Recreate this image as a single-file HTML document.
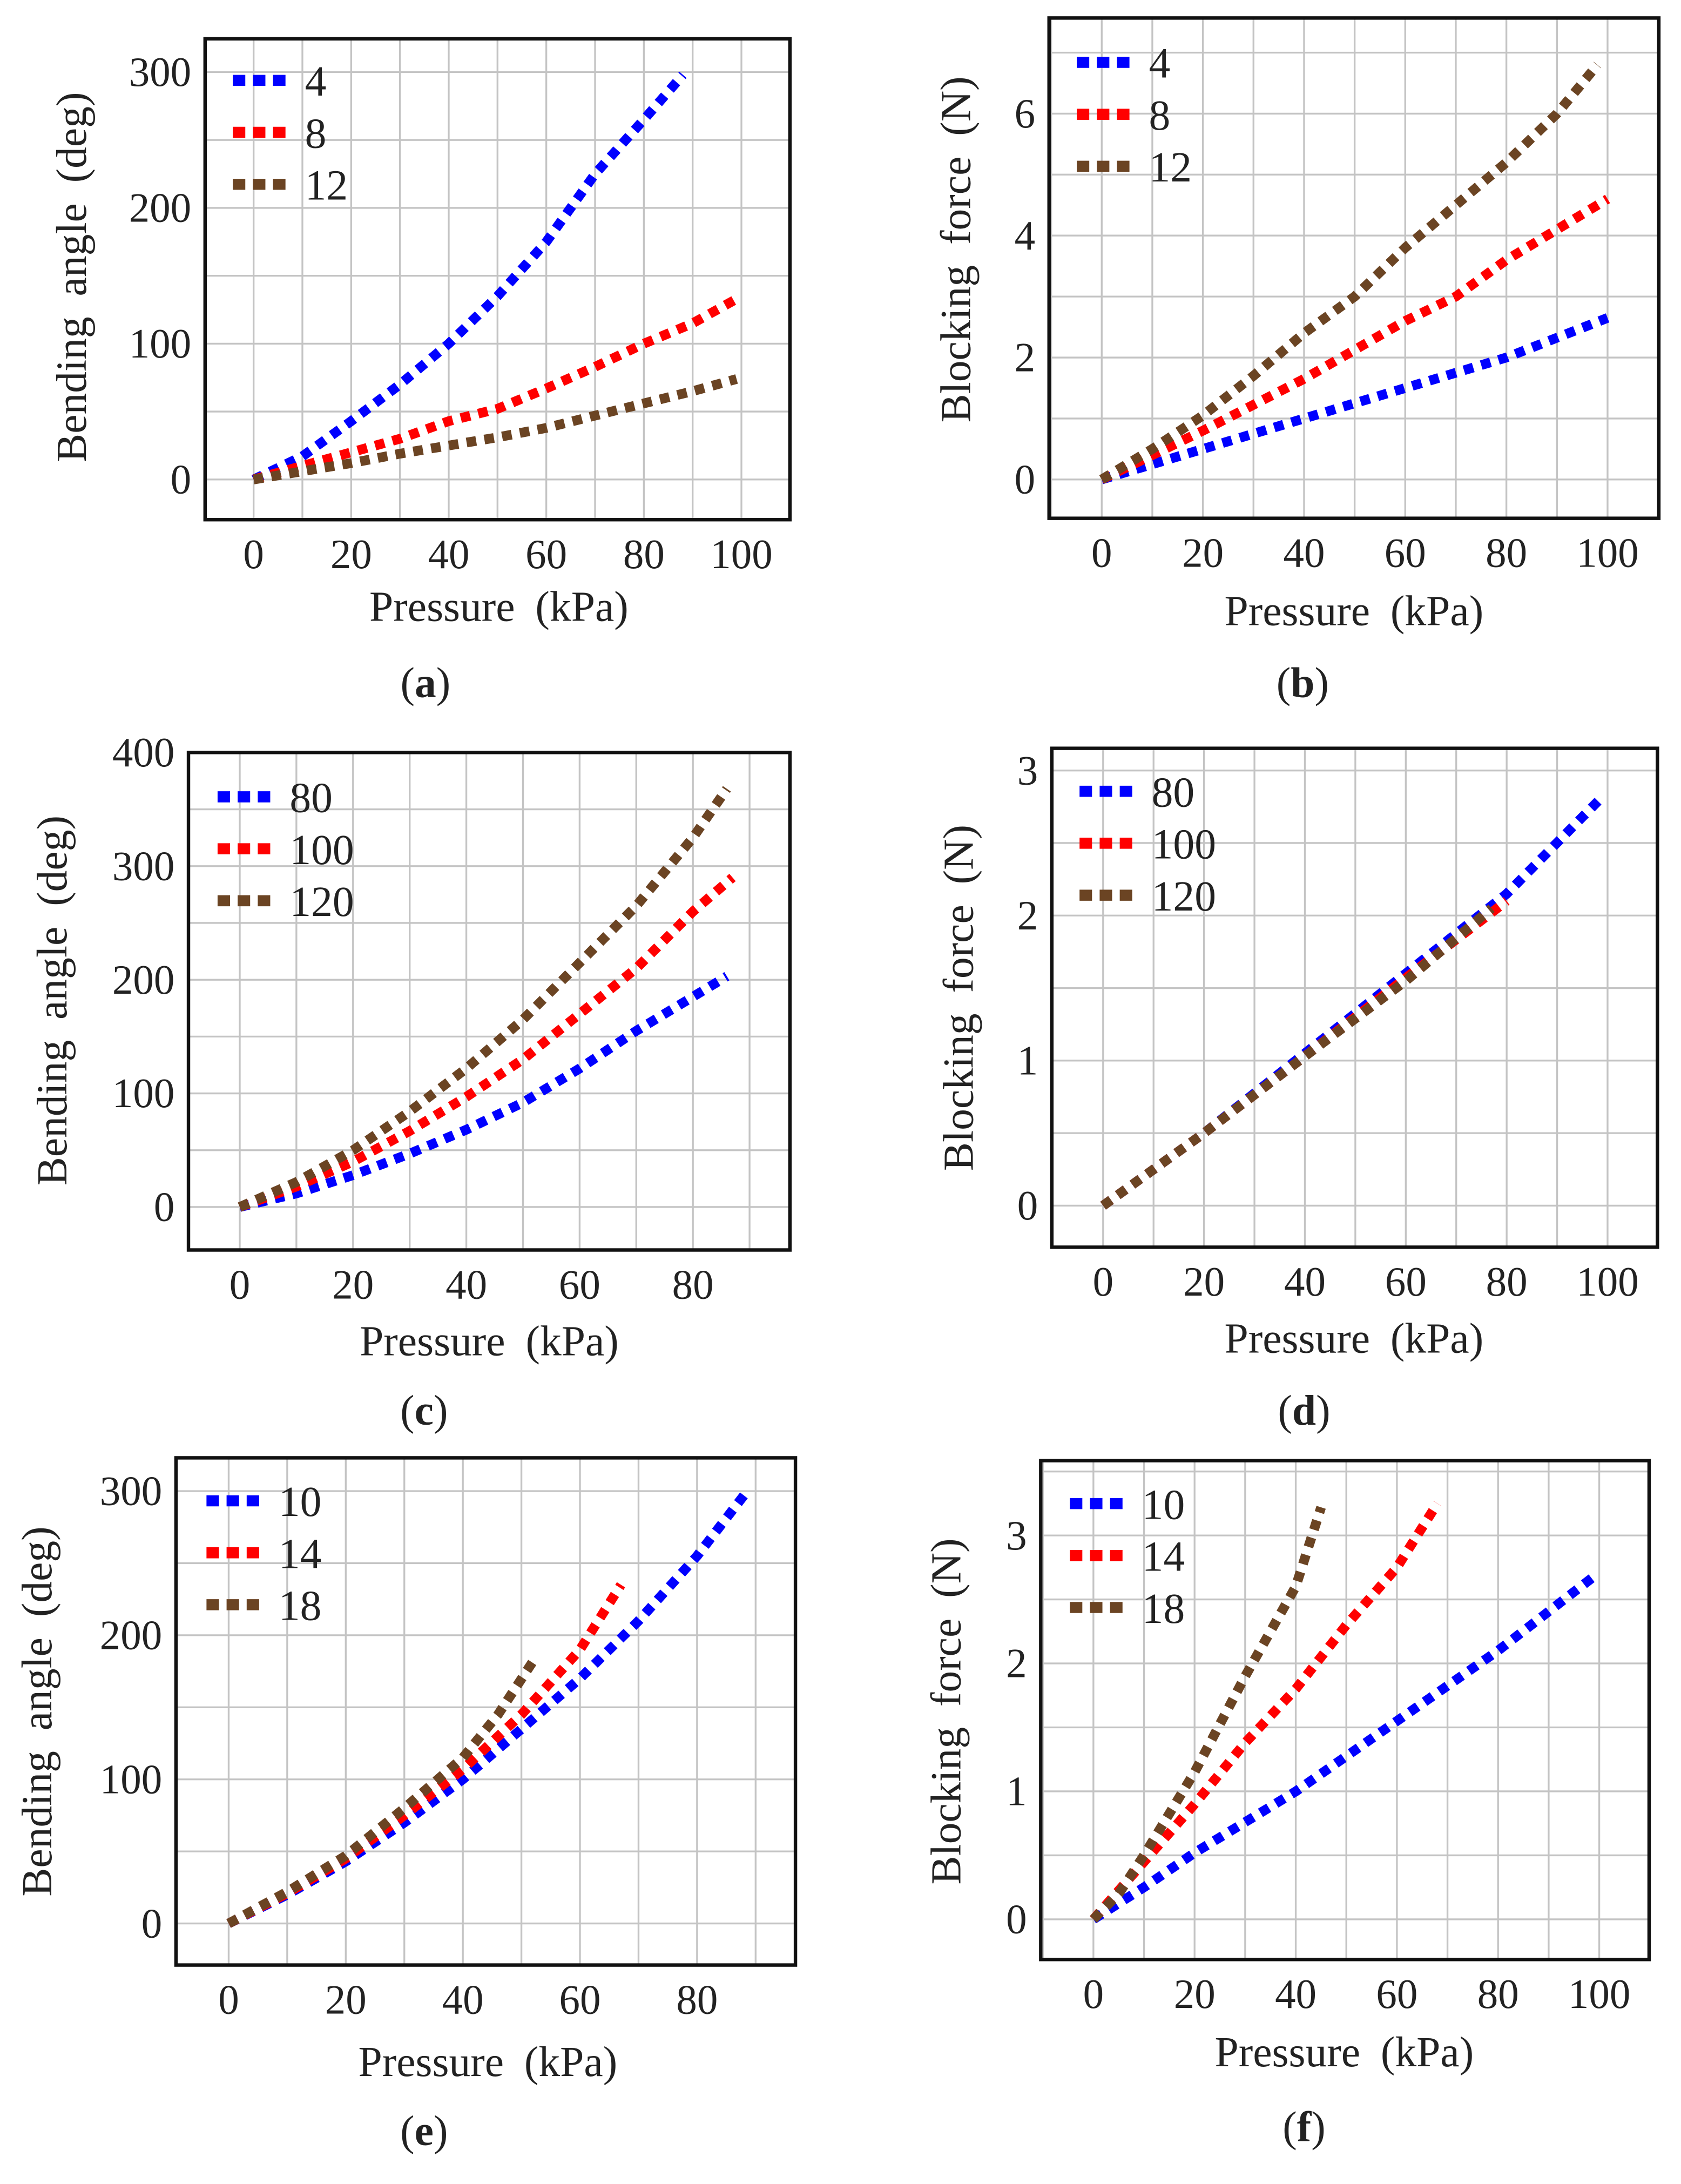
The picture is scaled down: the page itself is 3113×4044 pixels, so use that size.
<!DOCTYPE html>
<html><head><meta charset="utf-8"><style>
html,body{margin:0;padding:0;background:#fff;}
svg{display:block;}
</style></head><body>
<svg id="fig" width="3113" height="4044" viewBox="0 0 1213 1576" preserveAspectRatio="none" xmlns="http://www.w3.org/2000/svg"></svg>
<script>
// ---- data ----
const aX4=[0,10,20,30,40,50,60,70,80,88], aY4=[0,17,43,70,100,135,175,225,265,298];
const aX8=[0,10,20,30,40,50,60,70,80,90,99], aY8=[0,10,20,30,43,52,67,83,100,115,133];
const aX12=[0,10,20,30,40,50,60,70,80,90,99], aY12=[0,6,12,19,25,31,38,47,56,65,74];
const bX4=[0,10,20,40,60,80,100], bY4=[0,0.25,0.5,1.0,1.5,2.0,2.65];
const bX8=[0,10,20,40,60,70,80,100], bY8=[0,0.4,0.8,1.65,2.6,3.0,3.6,4.6];
const bX12=[0,10,20,30,40,50,60,70,80,90,98], bY12=[0,0.5,1.05,1.7,2.4,3.0,3.8,4.5,5.2,6.0,6.8];
const cX80=[0,10,20,30,40,50,60,70,80,86], cY80=[0,12,28,47,68,92,122,155,185,203];
const cX100=[0,10,20,30,40,50,60,70,80,87], cY100=[0,18,40,67,97,130,170,210,260,290];
const cX120=[0,10,20,30,40,50,60,70,80,86], cY120=[0,22,50,84,122,165,215,265,325,368];
const dX80=[0,20,40,60,80,99], dY80=[0,0.5,1.05,1.6,2.15,2.82];
const dX100=[0,20,40,60,80], dY100=[0,0.5,1.03,1.57,2.1];
const dX120=[0,20,40,60,77], dY120=[0,0.5,1.03,1.55,2.05];
const eX10=[0,10,20,30,40,50,60,70,80,88], eY10=[0,20,43,70,100,135,170,210,255,297];
const eX14=[0,10,20,30,40,50,60,67], eY14=[0,21,45,75,107,145,190,235];
const eX18=[0,10,20,30,40,46,52], eY18=[0,22,47,80,115,145,182];
const fX10=[0,10,20,40,60,80,99], fY10=[0,0.25,0.52,1.0,1.55,2.1,2.68];
const fX14=[0,10,20,30,40,50,60,68], fY14=[0,0.45,0.9,1.38,1.8,2.3,2.75,3.25];
const fX18=[0,5,10,20,30,40,45], fY18=[0,0.2,0.5,1.15,1.9,2.6,3.22];
const xTicks100=[0,20,40,60,80,100], xTicks80=[0,20,40,60,80];
const aYTicks=[0,100,200,300], bYTicks=[0,2,4,6], cYTicks=[0,100,200,300,400], dYTicks=[0,1,2,3];
const colors=["#0000ff","#ff0000","#6b4423"];
const FF='"Liberation Serif", "DejaVu Serif", serif';

const NS="http://www.w3.org/2000/svg", svg=document.getElementById('fig');
function mk(tag,attrs,parent){const e=document.createElementNS(NS,tag);for(const k in attrs)e.setAttribute(k,attrs[k]);if(tag==='text'){e.setAttribute('font-family',FF);e.setAttribute('fill','#222');}(parent||svg).appendChild(e);return e;}

function panel(p){
  const g=mk('g',{});
  
  
  const sx=v=>p.px0+(v-p.x0)*(p.px1-p.px0)/(p.x1-p.x0);
  const sy=v=>p.py0+(v-p.y0)*(p.py1-p.py0)/(p.y1-p.y0);
  const L=p.frame[0],R=p.frame[1],T=p.frame[2],B=p.frame[3];
  for(let v=Math.ceil(p.xmin/p.xg)*p.xg; v<=p.xmax; v+=p.xg){const x=sx(v); if(x<=L+1||x>=R-1)continue;
    const l=mk('line',{x1:x,x2:x,y1:T,y2:B,stroke:'#c4c4c4','stroke-width':1.3},g);
    }
  for(let v=Math.ceil(p.ymin/p.yg)*p.yg; v<=p.ymax+1e-9; v+=p.yg){const y=sy(v); if(y<=T+1||y>=B-1)continue;
    const l=mk('line',{x1:L,x2:R,y1:y,y2:y,stroke:'#c4c4c4','stroke-width':1.3},g);
    }
  p.series.forEach((s,i)=>{
    const pts=s.x.map((xv,j)=>sx(xv).toFixed(1)+','+sy(s.y[j]).toFixed(1)).join(' ');
    const pl=mk('polyline',{points:pts,fill:'none',stroke:colors[i],'stroke-width':7,'stroke-dasharray':'7 6'},g);
    
    const ly=p.leg[1]+i*37.5;
    const ll=mk('line',{x1:p.leg[0],x2:p.leg[0]+42,y1:ly,y2:ly,stroke:colors[i],'stroke-width':8,'stroke-dasharray':'9 5.5'},g);
    
    const lt=mk('text',{x:p.leg[0]+52,y:ly+11,'font-size':31},g);lt.textContent=s.name;
    
  });
  const fr=mk('rect',{x:L,y:T,width:R-L,height:B-T,fill:'none',stroke:'#111','stroke-width':2.5},g);
  
  p.xt.forEach(v=>{const t=mk('text',{x:sx(v),y:B+35,'font-size':30,'text-anchor':'middle'},g);t.textContent=v;
    });
  p.yt.forEach(v=>{const t=mk('text',{x:L-10,y:sy(v)+10,'font-size':30,'text-anchor':'end'},g);t.textContent=v;
    });
  const xl=mk('text',{x:p.xl[0],y:p.xl[1],'font-size':31,'text-anchor':'middle','word-spacing':7},g);xl.textContent='Pressure (kPa)';
  
  const yl=mk('text',{x:0,y:0,'font-size':31,'text-anchor':'middle','word-spacing':7,transform:`translate(${p.yl[0]},${p.yl[1]}) rotate(-90)`},g);yl.textContent=p.ylabel;
  
  const cp=mk('text',{x:p.cap[0],y:p.cap[1],'font-size':31,'text-anchor':'middle'},g);
  cp.innerHTML='(<tspan font-weight="bold">'+p.id+'</tspan>)';
  
}

panel({id:'a',frame:[148,570,28,375],x0:0,x1:100,px0:183,px1:535,y0:0,y1:300,py0:346,py1:52,
  xmin:-10,xmax:110,xg:10,ymin:-50,ymax:350,yg:50,xt:xTicks100,yt:aYTicks,
  series:[{name:'4',x:aX4,y:aY4},{name:'8',x:aX8,y:aY8},{name:'12',x:aX12,y:aY12}],
  leg:[168,58],xl:[360,448],yl:[62,200],ylabel:'Bending angle (deg)',cap:[307,503]});
panel({id:'b',frame:[757,1197,13,374],x0:0,x1:100,px0:795,px1:1160,y0:0,y1:6,py0:346,py1:82,
  xmin:-10,xmax:110,xg:10,ymin:-1,ymax:8,yg:1,xt:xTicks100,yt:bYTicks,
  series:[{name:'4',x:bX4,y:bY4},{name:'8',x:bX8,y:bY8},{name:'12',x:bX12,y:bY12}],
  leg:[777,45],xl:[977,451],yl:[700,180],ylabel:'Blocking force (N)',cap:[940,503]});
panel({id:'c',frame:[136,570,543,902],x0:0,x1:80,px0:173,px1:500,y0:0,y1:400,py0:871,py1:543,
  xmin:-10,xmax:100,xg:10,ymin:-50,ymax:400,yg:50,xt:xTicks80,yt:cYTicks,
  series:[{name:'80',x:cX80,y:cY80},{name:'100',x:cX100,y:cY100},{name:'120',x:cX120,y:cY120}],
  leg:[157,575],xl:[353,978],yl:[48,722],ylabel:'Bending angle (deg)',cap:[306,1028]});
panel({id:'d',frame:[759,1196,540,900],x0:0,x1:100,px0:796,px1:1160,y0:0,y1:3,py0:870,py1:556,
  xmin:-10,xmax:110,xg:10,ymin:-0.5,ymax:3.5,yg:0.5,xt:xTicks100,yt:dYTicks,
  series:[{name:'80',x:dX80,y:dY80},{name:'100',x:dX100,y:dY100},{name:'120',x:dX120,y:dY120}],
  leg:[779,571],xl:[977,976],yl:[702,720],ylabel:'Blocking force (N)',cap:[941,1028]});
panel({id:'e',frame:[127,574,1052,1418],x0:0,x1:80,px0:165,px1:503,y0:0,y1:300,py0:1388,py1:1076,
  xmin:-10,xmax:100,xg:10,ymin:-50,ymax:350,yg:50,xt:xTicks80,yt:aYTicks,
  series:[{name:'10',x:eX10,y:eY10},{name:'14',x:eX14,y:eY14},{name:'18',x:eX18,y:eY18}],
  leg:[149,1083],xl:[352,1498],yl:[37,1235],ylabel:'Bending angle (deg)',cap:[306,1548]});
panel({id:'f',frame:[751,1190,1054,1414],x0:0,x1:100,px0:789,px1:1154,y0:0,y1:3,py0:1385,py1:1108,
  xmin:-10,xmax:110,xg:10,ymin:-0.5,ymax:3.5,yg:0.5,xt:xTicks100,yt:dYTicks,
  series:[{name:'10',x:fX10,y:fY10},{name:'14',x:fX14,y:fY14},{name:'18',x:fX18,y:fY18}],
  leg:[772,1085],xl:[970,1491],yl:[693,1235],ylabel:'Blocking force (N)',cap:[941,1545]});
</script>
</body></html>
